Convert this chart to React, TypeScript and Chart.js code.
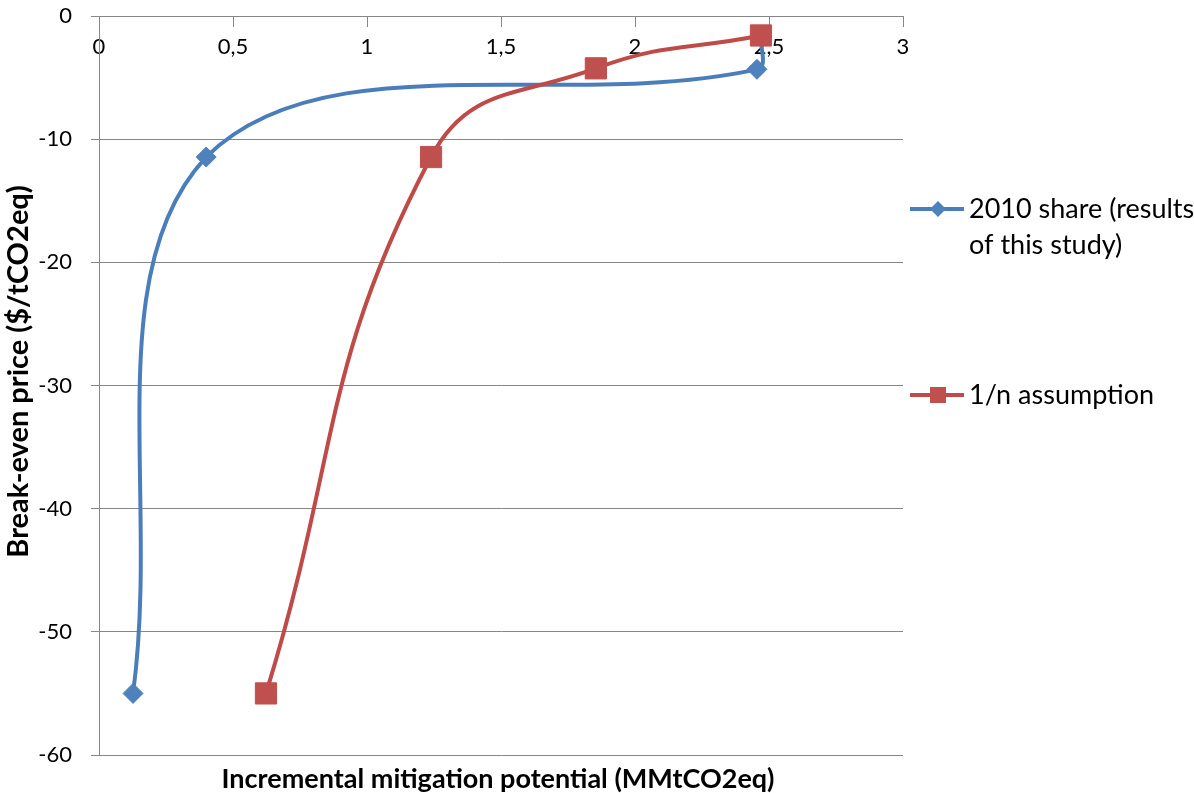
import React, { useEffect, useRef } from "react";
import { Chart, registerables } from "chart.js";

Chart.register(...registerables);

const seriesNames = ["2010 share (results of this study)", "1/n assumption"];
const legendLines = [["2010 share (results", "of this study)"], ["1/n assumption"]];
const shareX = [0.127, 0.4, 2.455, 2.47];
const shareY = [-55, -11.45, -4.33, -1.58];
const oneOverNX = [0.623, 1.239, 1.854, 2.47];
const oneOverNY = [-55, -11.45, -4.25, -1.58];
const xMin = 0;
const xMax = 3;
const xStep = 0.5;
const yMin = -60;
const yMax = 0;
const yStep = 10;
const xTitle = "Incremental mitigation potential (MMtCO2eq)";
const yTitle = "Break-even price ($/tCO2eq)";

const BLUE_LINE = "#4A7EBB";
const BLUE_MARK = "#4F81BD";
const RED_LINE = "#BE4B48";
const RED_MARK = "#C0504D";
const GRID = "#868686";
const FONT = "Lato";

const titlesAndLegend = {
  id: "titlesAndLegend",
  afterDraw(chart: any) {
    const ctx = chart.ctx as CanvasRenderingContext2D;
    const a = chart.chartArea;
    ctx.save();
    ctx.fillStyle = "#000";
    // x title
    ctx.font = `bold 27px ${FONT}`;
    ctx.textAlign = "center";
    ctx.textBaseline = "alphabetic";
    ctx.fillText(xTitle, (a.left + a.right) / 2 - 3, a.bottom + 33);
    // y title
    ctx.save();
    ctx.font = `bold 29px ${FONT}`;
    ctx.translate(28, (a.top + a.bottom) / 2 - 14);
    ctx.rotate(-Math.PI / 2);
    ctx.fillText(yTitle, 0, 0);
    ctx.restore();

    // legend
    const lx0 = a.right + 7;
    const lx1 = a.right + 61;
    const tx = a.right + 66;
    const items = [
      { lines: legendLines[0], y: 209, line: BLUE_LINE, mark: BLUE_MARK, style: "rectRot", r: 8 },
      { lines: legendLines[1], y: 395, line: RED_LINE, mark: RED_MARK, style: "rect", r: 8 },
    ];
    ctx.font = `27px ${FONT}`;
    ctx.textAlign = "left";
    ctx.textBaseline = "alphabetic";
    items.forEach((it) => {
      ctx.strokeStyle = it.line;
      ctx.lineWidth = 4;
      ctx.beginPath();
      ctx.moveTo(lx0, it.y);
      ctx.lineTo(lx1, it.y);
      ctx.stroke();
      ctx.fillStyle = it.mark;
      const cx = (lx0 + lx1) / 2 + 1;
      ctx.beginPath();
      if (it.style === "rectRot") {
        ctx.moveTo(cx, it.y - it.r);
        ctx.lineTo(cx + it.r, it.y);
        ctx.lineTo(cx, it.y + it.r);
        ctx.lineTo(cx - it.r, it.y);
        ctx.closePath();
      } else {
        ctx.rect(cx - it.r, it.y - it.r, 2 * it.r, 2 * it.r);
      }
      ctx.fill();
      ctx.fillStyle = "#000";
      it.lines.forEach((t, i) => {
        ctx.fillText(t, tx, it.y + 9 + i * 36);
      });
    });
    ctx.restore();
  },
};

export default function App() {
  const ref = useRef<HTMLCanvasElement | null>(null);
  useEffect(() => {
    if (!ref.current) return;
    const chart = new Chart(ref.current, {
      type: "scatter",
      data: {
        datasets: [
          {
            label: seriesNames[0],
            data: shareX.map((x, i) => ({ x, y: shareY[i] })),
            showLine: true,
            borderColor: BLUE_LINE,
            borderWidth: 4,
            backgroundColor: BLUE_MARK,
            pointStyle: "rectRot",
            pointRadius: 10,
            pointBorderWidth: 1,
            pointBorderColor: BLUE_MARK,
            pointBackgroundColor: BLUE_MARK,
            tension: 0.37,
            order: 1,
          },
          {
            label: seriesNames[1],
            data: oneOverNX.map((x, i) => ({ x, y: oneOverNY[i] })),
            showLine: true,
            borderColor: RED_LINE,
            borderWidth: 4,
            backgroundColor: RED_MARK,
            pointStyle: "rect",
            pointRadius: 15,
            pointBorderWidth: 1,
            pointBorderColor: RED_MARK,
            pointBackgroundColor: RED_MARK,
            tension: 0.45,
            order: 0,
          },
        ],
      },
      options: {
        animation: false,
        responsive: false,
        layout: { padding: { left: 0, right: 291, top: 13, bottom: 38 } },
        plugins: {
          legend: { display: false },
          tooltip: { enabled: false },
          title: { display: false },
        },
        scales: {
          x: {
            type: "linear",
            position: { y: 0 } as any,
            min: xMin,
            max: xMax,
            ticks: {
              stepSize: xStep,
              padding: 8,
              color: "#000",
              font: { family: FONT, size: 22 },
              callback: (v: any) => String(v).replace(".", ","),
            },
            grid: {
              drawOnChartArea: false,
              drawTicks: true,
              tickLength: 10,
              color: GRID,
            },
            border: { display: true, color: GRID },
          },
          y: {
            type: "linear",
            position: "left",
            min: yMin,
            max: yMax,
            afterFit: (scale: any) => {
              scale.width = 99;
              scale.paddingTop = 0;
              scale.paddingBottom = 0;
            },
            ticks: {
              stepSize: yStep,
              padding: 19,
              color: "#000",
              font: { family: FONT, size: 22 },
              callback: (v: any) => String(v),
            },
            grid: { color: GRID, tickLength: 8, drawTicks: true },
            border: { display: true, color: GRID },
          },
        },
      },
      plugins: [titlesAndLegend],
    });
    return () => chart.destroy();
  }, []);
  return (
    <div style={{ position: "fixed", left: 0, top: 0, width: 1194, height: 793, background: "#fff" }}>
      <canvas ref={ref} width={1194} height={793} />
    </div>
  );
}
